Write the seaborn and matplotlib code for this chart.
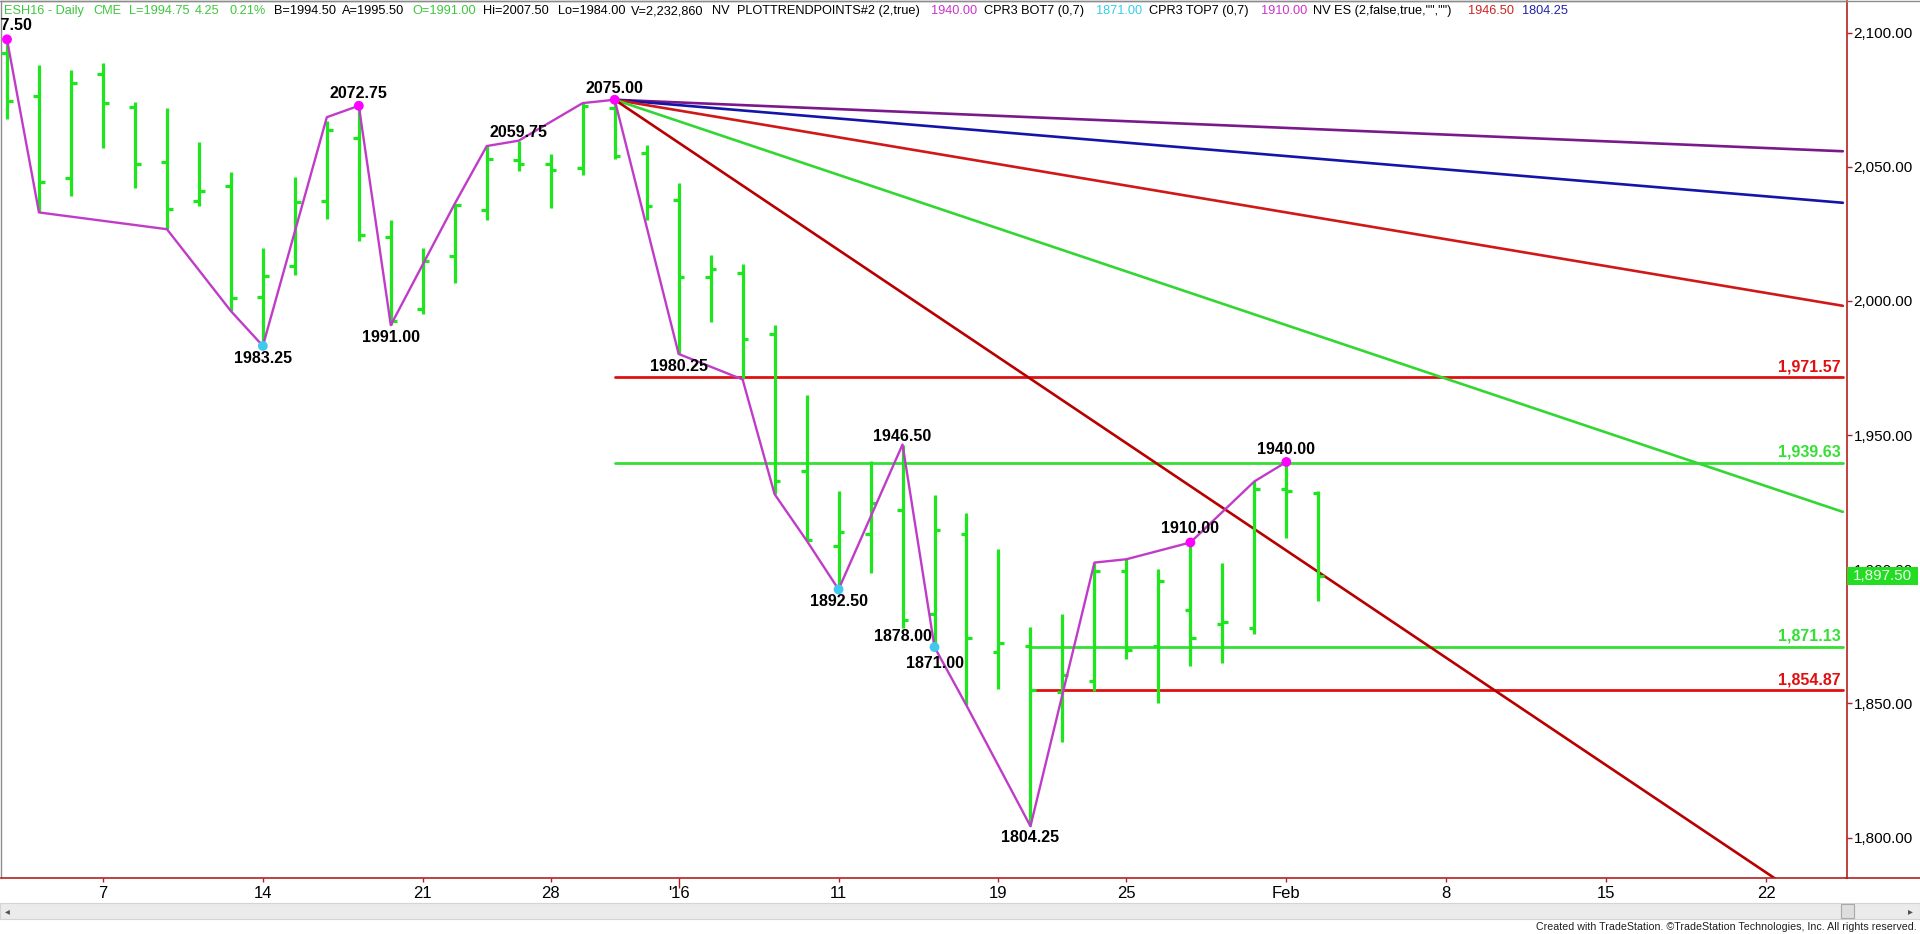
import numpy as np
import pandas as pd
import matplotlib.pyplot as plt
import seaborn as sns
from matplotlib.patches import Rectangle
from matplotlib.lines import Line2D

# 기본 스타일 (set_theme 뒤에 폰트 지정)
sns.set_theme(style="white")
plt.rcParams['font.family'] = ['Liberation Sans', 'DejaVu Sans']
NARROW = ['Liberation Sans Narrow', 'DejaVu Sans Condensed', 'Liberation Sans']

# ESH16 일봉 OHLC (봉 번호 0 = 2015-12-02)
opens = [2092.50, 2076.50, 2046.00, 2084.50, 2072.25, 2051.75, 2037.25, 2042.75, 2001.50, 2013.00,
         2037.25, 2060.75, 2024.00, 1997.00, 2016.75, 2034.00, 2052.50, 2051.00, 2049.50, 2072.00,
         2055.25, 2037.50, 2009.00, 2010.50, 1987.75, 1936.50, 1908.75, 1913.25, 1922.25, 1883.50,
         1913.25, 1869.25, 1871.25, 1854.25, 1858.25, 1899.25, 1871.50, 1885.00, 1879.75, 1878.25,
         1929.75, 1928.50]
highs = [2097.50, 2088.00, 2086.00, 2088.75, 2074.25, 2072.00, 2059.25, 2048.00, 2019.75, 2046.25,
         2067.25, 2072.75, 2030.25, 2019.75, 2036.25, 2057.75, 2059.75, 2054.75, 2073.75, 2075.00,
         2058.00, 2044.00, 2017.25, 2013.75, 1991.00, 1965.00, 1929.00, 1940.25, 1946.50, 1927.75,
         1921.00, 1907.50, 1878.50, 1883.25, 1902.50, 1903.75, 1900.00, 1910.00, 1902.50, 1932.75,
         1940.00, 1929.25]
lows = [2068.00, 2033.00, 2039.25, 2057.00, 2042.25, 2026.75, 2035.25, 1996.25, 1983.25, 2009.50,
        2030.50, 2022.50, 1991.00, 1995.00, 2006.75, 2030.25, 2048.50, 2034.50, 2047.00, 2053.00,
        2030.00, 1980.25, 1992.00, 1970.75, 1928.00, 1910.75, 1892.50, 1898.50, 1878.00, 1871.00,
        1849.25, 1855.50, 1804.25, 1835.50, 1854.75, 1866.75, 1850.25, 1864.00, 1865.00, 1876.00,
        1911.75, 1888.25]
closes = [2074.50, 2044.25, 2081.25, 2073.75, 2051.00, 2034.25, 2041.00, 2001.00, 2009.25, 2037.00,
          2063.75, 2024.75, 1992.50, 2015.00, 2035.75, 2052.75, 2051.00, 2048.75, 2072.75, 2054.00,
          2035.25, 2009.00, 2011.75, 1986.00, 1932.75, 1911.00, 1914.00, 1924.75, 1881.25, 1914.50,
          1874.50, 1872.50, 1855.00, 1860.75, 1899.25, 1870.00, 1895.75, 1874.50, 1880.50, 1929.75,
          1929.25, 1897.50]

# 스윙 라인 꼭짓점
swing_idx = [0, 1, 5, 7, 8, 10, 11, 12, 14, 15, 16, 18, 19, 21, 23, 24, 25, 26, 28, 29, 30, 32,
             34, 35, 37, 39, 40]
swing_px = [2097.50, 2033.00, 2026.75, 1996.25, 1983.25, 2068.50, 2072.75, 1991.00, 2036.25,
            2057.75, 2059.75, 2073.75, 2075.00, 1980.25, 1970.75, 1928.00, 1910.75, 1892.50,
            1946.50, 1871.00, 1849.25, 1804.25, 1902.50, 1903.75, 1910.00, 1932.75, 1940.00]

# 피벗 라벨
pivot_idx = [0, 11, 8, 12, 16, 19, 21, 28, 26, 28, 29, 32, 37, 40]
pivot_px = [2097.50, 2072.75, 1983.25, 1991.00, 2059.75, 2075.00, 1980.25, 1946.50, 1892.50,
            1878.00, 1871.00, 1804.25, 1910.00, 1940.00]
pivot_dy = [14, 12, -13, -12, 8, 11, -13, 8, -12, -8, -16, -11, 14, 12]

magenta_idx = [0, 11, 19, 37, 40]
magenta_px = [2097.50, 2072.75, 2075.00, 1910.00, 1940.00]
cyan_idx = [8, 26, 29]
cyan_px = [1983.25, 1892.50, 1871.00]

# 2075 고점에서 나가는 각도선 (포인트/봉)
fan_start_idx = 19
fan_start_px = 2075.00
fan_slopes = [-0.5, -1, -2, -4, -8]
fan_colors = ['#7a1a8a', '#1414a8', '#d01818', '#33d633', '#b80000']

# 되돌림 수평선
levels = [1971.57, 1939.63, 1871.13, 1854.87]
level_start = [19, 19, 32, 32]
level_colors = ['#e01010', '#33e033', '#33e033', '#e01010']

x_tick_idx = [3, 8, 13, 17, 21, 26, 31, 35, 40, 45, 50, 55]
x_tick_lab = ['7', '14', '21', '28', "'16", '11', '19', '25', 'Feb', '8', '15', '22']
y_ticks = [1800, 1850, 1900, 1950, 2000, 2050, 2100]
last_price = 1897.50

W, H = 1920, 934
green = '#1ee61e'
axis_red = '#b42020'

fig = plt.figure(figsize=(19.2, 9.34), dpi=100)
fig.patch.set_facecolor('white')
ax_bottom = 1 - 878.4 / H
ax = fig.add_axes([1 / W, ax_bottom, 1846 / W, 1 - ax_bottom - 1 / H])
ax.set_facecolor('white')
ax.set_xlim(-0.1875, 57.53)
ax.set_ylim(1784.8, 2111.8)

x_end = 57.4
# 수평선
for lv, st, c in zip(levels, level_start, level_colors):
    ax.plot([st, x_end], [lv, lv], color=c, lw=2.0, zorder=2)
    ax.annotate(f"{lv:,.2f}", xy=(57.33, lv), xytext=(0, 10.5), textcoords='offset pixels',
                ha='right', va='center', color=c, fontsize=11.5, fontweight='bold', zorder=7)

# 각도선
for s, c in zip(fan_slopes, fan_colors):
    ax.plot([fan_start_idx, x_end], [fan_start_px, fan_start_px + s * (x_end - fan_start_idx)],
            color=c, lw=1.9, zorder=2)

# OHLC 봉
idx = np.arange(len(opens))
ax.vlines(idx, lows, highs, color=green, lw=2.3, zorder=3)
ax.hlines(opens, idx - 0.18, idx, color=green, lw=2.3, zorder=3)
ax.hlines(closes, idx, idx + 0.18, color=green, lw=2.3, zorder=3)

# 스윙 라인과 점
sns.lineplot(x=swing_idx, y=swing_px, ax=ax, color='#c03cc8', lw=1.7, sort=False,
             estimator=None, zorder=4)
sns.scatterplot(x=magenta_idx, y=magenta_px, ax=ax, color='#ff00ff', s=50, edgecolor='none', zorder=5)
sns.scatterplot(x=cyan_idx, y=cyan_px, ax=ax, color='#40c8f0', s=50, edgecolor='none', zorder=5)

for i, p, dy in zip(pivot_idx, pivot_px, pivot_dy):
    dx = -4 if i == 0 else 0
    t = ax.annotate(f"{p:.2f}", xy=(i, p), xytext=(dx, dy), textcoords='offset pixels',
                    ha='center', va='center', fontsize=11.5, fontweight='bold', color='black', zorder=7)
    t.set_clip_path(ax.patch)

# 축 설정
ax.yaxis.tick_right()
ax.set_yticks(y_ticks)
ax.set_yticklabels([f"{v:,.2f}" for v in y_ticks])
ax.tick_params(axis='y', direction='out', length=3.6, width=1, color=axis_red, pad=1,
               labelsize=11, labelcolor='black', right=True, left=False)
ax.set_xticks(x_tick_idx)
ax.set_xticklabels(x_tick_lab, family=NARROW)
ax.tick_params(axis='x', direction='out', length=3, width=1, color=axis_red, pad=2.5,
               labelsize=12, labelcolor='black', bottom=True)
ax.xaxis.get_major_ticks()[4].tick1line.set_markersize(7)
ax.grid(False)
for side in ['left', 'top']:
    ax.spines[side].set_color('#8c8c8c')
    ax.spines[side].set_linewidth(1)
for side in ['right', 'bottom']:
    ax.spines[side].set_color(axis_red)
    ax.spines[side].set_linewidth(1.2)

# 하단 축선 연장, 위쪽 테두리
fig.add_artist(Line2D([1846 / W, 1], [ax_bottom, ax_bottom], transform=fig.transFigure,
                      color=axis_red, lw=1.2))
fig.add_artist(Line2D([0, 1], [1 - 0.5 / H, 1 - 0.5 / H], transform=fig.transFigure,
                      color='#8c8c8c', lw=1))

# 최종가 박스
yd = ax.transData.transform((0, last_price))[1]
fig.patches.append(Rectangle((1847 / W, (yd - 9) / H), 71 / W, 18 / H, transform=fig.transFigure,
                             facecolor='#22dd22', edgecolor='none'))
fig.text(1853 / W, yd / H, f"{last_price:,.2f}", ha='left', va='center', fontsize=11, color='#f0fff0')

# 스크롤바
fig.patches.append(Rectangle((0, 1 - 919.3 / H), 1, 16.1 / H, transform=fig.transFigure,
                             facecolor='#ebebeb', edgecolor='#d4d4d4', lw=0.8))
fig.patches.append(Rectangle((1840.7 / W, 1 - 918.3 / H), 13.3 / W, 14 / H, transform=fig.transFigure,
                             facecolor='#dedede', edgecolor='#a8a8a8', lw=0.8))
fig.text(5 / W, 1 - 911.3 / H, '◂', fontsize=7, color='#505050', va='center', family='DejaVu Sans')
fig.text(1908 / W, 1 - 911.3 / H, '▸', fontsize=7, color='#505050', va='center', family='DejaVu Sans')

footer = fig.text(1917 / W, 1 - 927.5 / H,
                  "Created with TradeStation. \u00a9TradeStation Technologies, Inc. All rights reserved.",
                  ha='right', va='center', fontsize=10, color='#202020', family=NARROW)
# 푸터 폭을 원본(약 375px)에 맞춤
renderer = fig.canvas.get_renderer()
fw = footer.get_window_extent(renderer).width
footer.set_fontsize(10 * 375 / fw)

# 상단 헤더
hdr_green = '#3cc83c'
header = [
    (4, 'ESH16 - Daily', hdr_green), (93, 'CME', hdr_green), (128.6, 'L=1994.75', hdr_green),
    (195, '4.25', hdr_green), (229, '0.21%', hdr_green), (273.7, 'B=1994.50', 'black'),
    (342, 'A=1995.50', 'black'), (412, 'O=1991.00', hdr_green), (483.5, 'Hi=2007.50', 'black'),
    (558, 'Lo=1984.00', 'black'), (630.8, 'V=2,232,860', 'black'), (712, 'NV', 'black'),
    (737, 'PLOTTRENDPOINTS#2 (2,true)', 'black'), (930.8, '1940.00', '#cc33cc'),
    (984, 'CPR3 BOT7 (0,7)', 'black'), (1096.4, '1871.00', '#33ccee'),
    (1148.7, 'CPR3 TOP7 (0,7)', 'black'), (1260.7, '1910.00', '#cc33cc'),
    (1313, 'NV ES (2,false,true,"","")', 'black'), (1468, '1946.50', '#cc2222'),
    (1521.7, '1804.25', '#2222aa'),
]
for x, s, c in header:
    fig.text(x / W, 1 - 11 / H, s, ha='left', va='center', fontsize=9.2, color=c)

fig.savefig('out.png', dpi=100, facecolor='white')
